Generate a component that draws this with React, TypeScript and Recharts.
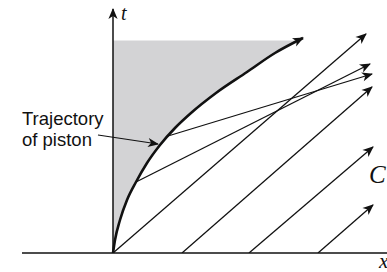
import { ComposedChart, Line, Area, XAxis, YAxis, ReferenceLine } from "recharts";

// units: 1 = 10px, origin at the piston start
const pistonX = [0, 0.2, 0.7, 1.4, 2.3, 3.4, 4.7, 6.2, 7.8, 10.3, 13.4, 16.2, 19.0];
const pistonT = [0, 1.3, 3.3, 5.3, 7.1, 9.0, 10.8, 12.5, 14.0, 16.0, 18.1, 20.0, 21.5];
const shadeTop = 21.25;
const shadeEndX = 18.6;

// characteristics C from the x axis
const charFootX = [0, 6.9, 13.6, 20.5];
const charTipX = [25.3, 25.9, 26.0, 26.0];
const charTipT = [21.9, 16.6, 10.6, 4.8];

// lines leaving the piston trajectory
const fanStartX = [2.3, 5.5];
const fanStartT = [7.1, 11.7];
const fanTipX = [25.7, 25.9];
const fanTipT = [18.9, 17.9];

const tAxisTop = 24.4;
const pointerFrom = { x: -1.5, t: 11.8 };
const pointerTo = { x: 4.5, t: 10.9 };

const INK = "#111";

const pistonData = pistonX.map((x, i) => ({ x, t: pistonT[i] }));
const shadeData = [
  ...pistonData.filter((p) => p.t <= shadeTop && p.x < shadeEndX).map((p) => ({ x: p.x, band: [p.t, shadeTop] })),
  { x: shadeEndX, band: [shadeTop, shadeTop] },
];
const charLines = charFootX.map((x0, i) => [
  { x: x0, t: 0 },
  { x: charTipX[i], t: charTipT[i] },
]);
const fanLines = fanStartX.map((x0, i) => [
  { x: x0, t: fanStartT[i] },
  { x: fanTipX[i], t: fanTipT[i] },
]);

const serifItalic = { fontFamily: "'Liberation Serif', serif", fontStyle: "italic" as const };
const sans = "'Liberation Sans', Arial, sans-serif";

const App = () => {
  return (
    <div style={{ position: "absolute", left: 0, top: 0, width: 387, height: 272, background: "#fff" }}>
      <ComposedChart width={387} height={272} margin={{ top: 0, right: 0, bottom: 19, left: 22 }}>
        <defs>
          <marker id="head" viewBox="-11 -6 13 12" refX={0} refY={0} markerWidth={13} markerHeight={12} markerUnits="userSpaceOnUse" orient="auto">
            <path d="M1,0 L-10,-4.6 L-7,0 L-10,4.6 Z" fill={INK} />
          </marker>
        </defs>
        <XAxis type="number" dataKey="x" domain={[-9.1, 27.4]} allowDataOverflow hide />
        <YAxis type="number" dataKey="t" domain={[0, 25.3]} allowDataOverflow hide />
        <Area
          data={shadeData}
          dataKey="band"
          type="monotone"
          stroke="none"
          fill="#d3d3d5"
          fillOpacity={1}
          isAnimationActive={false}
        />
        <ReferenceLine y={0} stroke={INK} strokeWidth={1.5} />
        <Line
          data={[{ x: 0, t: 0 }, { x: 0, t: tAxisTop }]}
          dataKey="t"
          type="linear"
          stroke={INK}
          strokeWidth={1.5}
          dot={false}
          activeDot={false}
          markerEnd="url(#head)"
          isAnimationActive={false}
        />
        {charLines.map((pts, i) => (
          <Line
            key={"c" + i}
            data={pts}
            dataKey="t"
            type="linear"
            stroke={INK}
            strokeWidth={1.3}
            dot={false}
            activeDot={false}
            markerEnd="url(#head)"
            isAnimationActive={false}
          />
        ))}
        {fanLines.map((pts, i) => (
          <Line
            key={"f" + i}
            data={pts}
            dataKey="t"
            type="linear"
            stroke={INK}
            strokeWidth={1.3}
            dot={false}
            activeDot={false}
            markerEnd="url(#head)"
            isAnimationActive={false}
          />
        ))}
        <Line
          data={[pointerFrom, pointerTo]}
          dataKey="t"
          type="linear"
          stroke={INK}
          strokeWidth={1.2}
          dot={false}
          activeDot={false}
          markerEnd="url(#head)"
          isAnimationActive={false}
        />
        <Line
          data={pistonData}
          dataKey="t"
          type="monotone"
          stroke={INK}
          strokeWidth={2.6}
          dot={false}
          activeDot={false}
          markerEnd="url(#head)"
          isAnimationActive={false}
        />
        <text x={121} y={20} fontSize={20} fill={INK} style={serifItalic}>t</text>
        <text x={379} y={268} fontSize={21} fill={INK} style={serifItalic}>x</text>
        <text x={369} y={183} fontSize={25} fill={INK} style={serifItalic}>C</text>
        <text x={22} y={125} fontSize={18.5} fill={INK} fontFamily={sans}>Trajectory</text>
        <text x={22} y={146} fontSize={18.5} fill={INK} fontFamily={sans}>of piston</text>
      </ComposedChart>
    </div>
  );
};

export default App;
